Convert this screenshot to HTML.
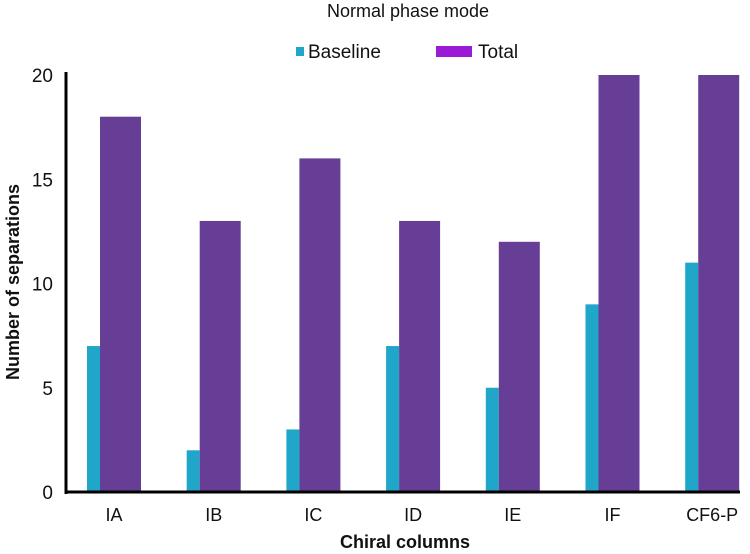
<!DOCTYPE html>
<html><head><meta charset="utf-8"><style>
html,body{margin:0;padding:0;background:#fff;}
svg{display:block;font-family:"Liberation Sans",Arial,sans-serif;}
</style></head><body>
<svg id="chart" width="750" height="554" viewBox="0 0 750 554">
<text x="408" y="17" font-size="18" text-anchor="middle" fill="#111">Normal phase mode</text>
<g>
<rect x="296" y="47" width="8" height="9" fill="#1fa6c9"/>
<text x="308" y="58" font-size="19" fill="#111">Baseline</text>
<rect x="436" y="46" width="36" height="11" fill="#9b1ad6"/>
<text x="478" y="58" font-size="19" fill="#111">Total</text>
</g>
<text transform="translate(19,282) rotate(-90)" font-size="18" font-weight="bold" text-anchor="middle" fill="#111">Number of separations</text>
<text x="405" y="548" font-size="18" font-weight="bold" text-anchor="middle" fill="#111">Chiral columns</text>
<g id="bars"></g>
<g id="axes"></g>
</svg>
<script>
const categories = ["IA","IB","IC","ID","IE","IF","CF6-P"];
const baseline = [7,2,3,7,5,9,11];
const total = [18,13,16,13,12,20,20];
const yTicks = [0,5,10,15,20];
const NS = "http://www.w3.org/2000/svg";
const y0 = 492, yTop = 75, yMax = 20;
function yScale(v){ return y0 - (y0 - yTop) * v / yMax; }
function xScale(i){ return 100 + i * 99.7; }
const bars = document.getElementById('bars');
const axes = document.getElementById('axes');
function mk(tag, attrs, parent){ const e = document.createElementNS(NS, tag); for (const k in attrs) e.setAttribute(k, attrs[k]); parent.appendChild(e); return e; }
categories.forEach((c, i) => {
  const x = xScale(i);
  const b = mk('rect', {x: x - 13, y: yScale(baseline[i]), width: 13, height: y0 - yScale(baseline[i]), fill: '#1fa6c9'}, bars);
  
  
  const t = mk('rect', {x: x, y: yScale(total[i]), width: 41, height: y0 - yScale(total[i]), fill: '#673e96'}, bars);
  
  
  const lab = mk('text', {x: x + 14, y: 521, 'font-size': 18, 'text-anchor': 'middle', fill: '#111'}, axes);
  lab.textContent = c;
  
  
});
yTicks.forEach(v => {
  const t = mk('text', {x: 53, y: yScale(v) + 7, 'font-size': 19, 'text-anchor': 'end', fill: '#111'}, axes);
  t.textContent = v;
  
  
});
const ya = mk('line', {x1: 66, y1: 72, x2: 66, y2: y0 + 2, stroke: '#000', 'stroke-width': 3}, axes);


const xa = mk('line', {x1: 65, y1: y0, x2: 740, y2: y0, stroke: '#000', 'stroke-width': 3}, axes);


</script>
</body></html>
